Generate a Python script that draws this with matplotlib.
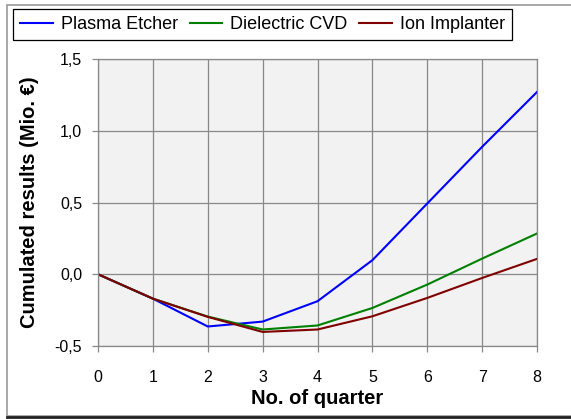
import matplotlib
matplotlib.use("Agg")
from matplotlib import pyplot as plt
from matplotlib.patches import Rectangle
from matplotlib.lines import Line2D

plt.rcParams['font.family'] = ['Liberation Sans', 'DejaVu Sans']

quarters = [0, 1, 2, 3, 4, 5, 6, 7, 8]
plasma_etcher = [0.0, -0.17, -0.364, -0.33, -0.188, 0.098, 0.493, 0.888, 1.27]
dielectric_cvd = [0.0, -0.17, -0.295, -0.385, -0.357, -0.235, -0.072, 0.109, 0.284]
ion_implanter = [0.0, -0.17, -0.297, -0.402, -0.385, -0.293, -0.165, -0.026, 0.107]
y_ticks = [-0.5, 0.0, 0.5, 1.0, 1.5]
y_labels = ["-0,5", "0,0", "0,5", "1,0", "1,5"]

W, H = 571, 419
fig = plt.figure(figsize=(W / 100, H / 100), dpi=100)

# outer chart frame (gray, with dark shadow at the bottom)
fig.add_artist(Rectangle((7 / W, 1 - 416 / H), 600 / W, 411 / H,
                         transform=fig.transFigure, fill=False,
                         edgecolor="#999999", linewidth=1.2))
fig.add_artist(Line2D([7 / W, 1], [1 - 416.5 / H] * 2, transform=fig.transFigure,
                      color="#222222", linewidth=2))

ax = fig.add_axes([98 / W, 1 - 346 / H, (537 - 98) / W, (346 - 59) / H])
ax.set_facecolor("#f2f2f2")

ax.plot(quarters, plasma_etcher, color="#0000ff", lw=1.5, label="Plasma Etcher")
ax.plot(quarters, dielectric_cvd, color="#008000", lw=1.5, label="Dielectric CVD")
ax.plot(quarters, ion_implanter, color="#800000", lw=1.5, label="Ion Implanter")

ax.set_xlim(0, 8)
ax.set_ylim(-0.5, 1.5)
ax.set_xticks(quarters)
ax.set_yticks(y_ticks)
ax.set_yticklabels(y_labels)
ax.grid(True, color="#888888", linewidth=0.9)
ax.set_axisbelow(True)
for s in ax.spines.values():
    s.set_color("#888888")
    s.set_linewidth(0.9)
ax.tick_params(direction="out", length=4.5, width=0.9, color="#888888",
               labelsize=11.5)
ax.tick_params(axis="x", pad=13)
ax.tick_params(axis="y", pad=7)

ax.set_xlabel("No. of quarter", fontsize=14.5, fontweight="bold", labelpad=3)
ax.set_ylabel("Cumulated results (Mio. €)", fontsize=14.5, fontweight="bold", labelpad=11)

leg = fig.legend(loc="upper left", bbox_to_anchor=(13 / W, 1 - 9 / H),
                 ncol=3, fontsize=13, fancybox=False, framealpha=1,
                 edgecolor="black", borderaxespad=0, handlelength=1.8,
                 handletextpad=0.45, columnspacing=0.65, borderpad=0.4)
leg.get_frame().set_linewidth(0.9)

fig.savefig("out.png", dpi=100)
